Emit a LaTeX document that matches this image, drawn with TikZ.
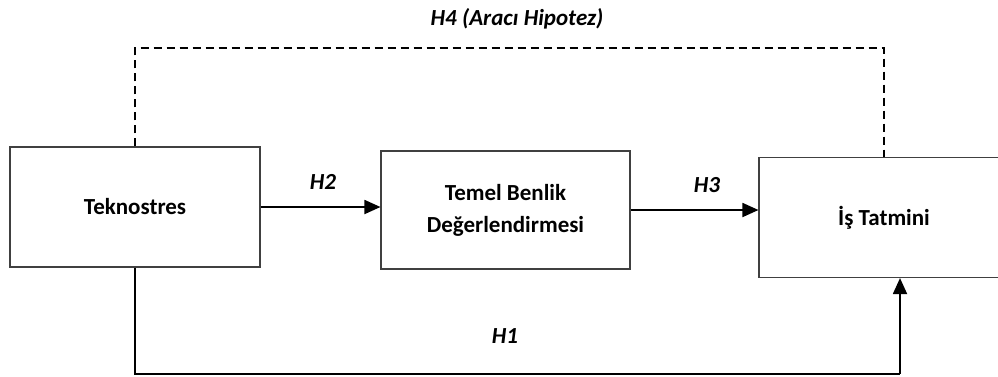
\documentclass[tikz,border=0pt]{standalone}
\usepackage{fontspec}
\setmainfont{Carlito}
\usetikzlibrary{arrows.meta}
\begin{document}
\begin{tikzpicture}[x=1pt,y=-1pt,
  box/.style={draw=black!75,line width=1.1pt,fill=white,inner sep=0pt,align=center,
    font=\bfseries\fontsize{23}{32}\selectfont},
  conn/.style={line width=1.8pt,black},
  arr/.style={conn,-{Triangle[length=16pt,width=14pt]}},
  dsh/.style={line width=1.8pt,dash pattern=on 8pt off 5pt},
  lbl/.style={font=\bfseries\itshape\fontsize{23}{27}\selectfont}]
\useasboundingbox (0,0) rectangle (998,376);
\node[box,minimum width=250pt,minimum height=120pt] (tek) at (135,207) {Teknostres};
\node[box,minimum width=249pt,minimum height=118pt] (tem) at (505.5,210) {Temel Benlik\\Değerlendirmesi};
\node[box,minimum width=250pt,minimum height=120pt] (is) at (884,217.5) {İş Tatmini};
\coordinate (d1) at (135,48);
\coordinate (d2) at (884,48);
\coordinate (b1) at (135,374);
\coordinate (b2) at (900,374);
\draw[dsh] (tek.north) -- (d1) -- (d2) -- (is.north);
\draw[arr] (tek.east) -- (tek.east -| tem.west);
\draw[arr] (tem.east) -- (tem.east -| is.west);
\draw[conn] (tek.south) -- (b1) -- (b2);
\draw[arr] (b2) -- (b2 |- is.south);
\node[lbl] (h4) at (517,19) {H4 (Aracı Hipotez)};
\node[lbl] (h2) at (323,182) {H2};
\node[lbl] (h3) at (707,185) {H3};
\node[lbl] (h1) at (505,336) {H1};
\end{tikzpicture}
\end{document}
